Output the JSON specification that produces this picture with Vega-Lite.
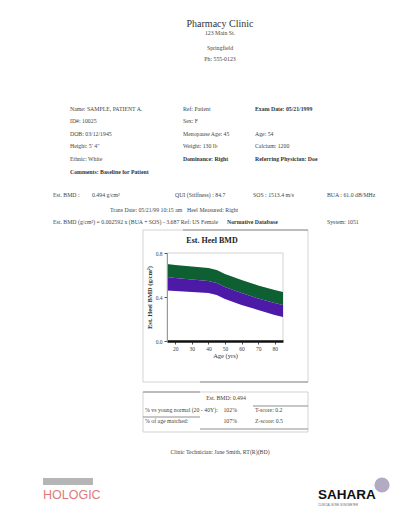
{
  "$schema": "https://vega.github.io/schema/vega-lite/v6.json",
  "width": 116,
  "height": 88,
  "padding": 0,
  "background": "white",
  "config": {"view": {"stroke": null}, "font": "Liberation Serif"},
  "datasets": {
    "bands": [
      {"age": 15, "upper": 0.700, "mid": 0.582, "lower": 0.458},
      {"age": 20, "upper": 0.691, "mid": 0.573, "lower": 0.455},
      {"age": 30, "upper": 0.677, "mid": 0.559, "lower": 0.445},
      {"age": 40, "upper": 0.664, "mid": 0.545, "lower": 0.436},
      {"age": 45, "upper": 0.645, "mid": 0.527, "lower": 0.418},
      {"age": 50, "upper": 0.609, "mid": 0.491, "lower": 0.382},
      {"age": 60, "upper": 0.555, "mid": 0.436, "lower": 0.327},
      {"age": 70, "upper": 0.505, "mid": 0.386, "lower": 0.282},
      {"age": 80, "upper": 0.464, "mid": 0.345, "lower": 0.236},
      {"age": 85, "upper": 0.445, "mid": 0.327, "lower": 0.218}
    ],
    "page": [{"c": 0, "c2": 26, "r": 0, "r2": 32}],
    "frames": [
      {"c": 7, "c2": 22, "r": 14, "r2": 18},
      {"c": 7, "c2": 22, "r": 19, "r2": 26},
      {"c": 9, "c2": 21, "r": 16, "r2": 17}
    ],
    "bar": [{"c": 1, "c2": 5, "r": 28, "r2": 29}],
    "rules": [
      {"c": 13, "c2": 22, "r": 18},
      {"c": 7, "c2": 13, "r": 19},
      {"c": 19, "c2": 22, "r": 21},
      {"c": 7, "c2": 13, "r": 23},
      {"c": 13, "c2": 22, "r": 25},
      {"c": 11, "c2": 22, "r": 14}
    ],
    "title": [{"t": "Pharmacy Clinic", "c": 15, "r": 1}],
    "sub": [
      {"t": "123 Main St.", "c": 15, "r": 2},
      {"t": "Springfield", "c": 15, "r": 3},
      {"t": "Ph: 555-0123", "c": 15, "r": 4},
      {"t": "Clinic Technician: Jane Smith, RT(R)(BD)", "c": 15, "r": 27},
      {"t": "Est. BMD: 0.494", "c": 16, "r": 20}
    ],
    "body": [
      {"t": "Name: SAMPLE, PATIENT A.", "c": 3, "r": 5},
      {"t": "ID#: 10025", "c": 3, "r": 6},
      {"t": "DOB: 03/12/1945", "c": 3, "r": 7},
      {"t": "Height: 5' 4\"", "c": 3, "r": 8},
      {"t": "Ethnic: White", "c": 3, "r": 9},
      {"t": "Ref: Patient", "c": 11, "r": 5},
      {"t": "Sex: F", "c": 11, "r": 6},
      {"t": "Menopause Age: 45", "c": 11, "r": 7},
      {"t": "Weight: 130 lb", "c": 11, "r": 8},
      {"t": "Age: 54", "c": 20, "r": 7},
      {"t": "Calcium: 1200", "c": 20, "r": 8},
      {"t": "Est. BMD :", "c": 2, "r": 11},
      {"t": "0.494 g/cm²", "c": 4, "r": 11},
      {"t": "QUI (Stiffness) : 84.7", "c": 10, "r": 11},
      {"t": "SOS : 1513.4 m/s", "c": 19, "r": 11},
      {"t": "BUA : 61.0 dB/MHz", "c": 24, "r": 11},
      {"t": "Trans Date: 05/21/99 10:15 am", "c": 6, "r": 12},
      {"t": "Heel Measured: Right", "c": 12, "r": 12},
      {"t": "Est. BMD (g/cm²) = 0.002592 x (BUA + SOS) - 3.687   Ref: US Female", "c": 2, "r": 13},
      {"t": "System: 1051", "c": 24, "r": 13},
      {"t": "% vs young normal (20 - 40Y):", "c": 8, "r": 22},
      {"t": "% of age matched:", "c": 8, "r": 24},
      {"t": "T-score: 0.2", "c": 20, "r": 22},
      {"t": "Z-score: 0.5", "c": 20, "r": 24}
    ],
    "bold": [
      {"t": "Comments: Baseline for Patient", "c": 3, "r": 10},
      {"t": "Dominance: Right", "c": 11, "r": 9},
      {"t": "Exam Date: 05/21/1999", "c": 20, "r": 5},
      {"t": "Referring Physician: Doe", "c": 20, "r": 9},
      {"t": "Normative Database", "c": 17, "r": 13}
    ],
    "right": [
      {"t": "102%", "c": 18, "r": 22},
      {"t": "107%", "c": 18, "r": 24}
    ],
    "ctitle": [{"t": "Est. Heel BMD", "c": 14, "r": 15}],
    "logoH": [{"t": "HOLOGIC", "c": 1, "r": 30}],
    "logoS": [{"t": "SAHARA", "c": 23, "r": 30}],
    "tag": [{"t": "CLINICAL BONE SONOMETER", "c": 23, "r": 31}],
    "badge": [{"c": 25, "r": 29}]
  },
  "layer": [
    {
      "encoding": {
        "x": {"field": "c", "type": "quantitative", "axis": null,
          "scale": {"domain": [0,1,2,3,4,5,6,7,8,9,10,11,12,13,14,15,16,17,18,19,20,21,22,23,24,25,26],
                    "range": [-167,-124,-114,-97,-75,-74,-57,-24,-22,0,8,16,20,33,45,53,59,60,70,86,88,116,141,151,160,215,252],
                    "nice": false, "zero": false}},
        "y": {"field": "r", "type": "quantitative", "axis": null,
          "scale": {"domain": [0,1,2,3,4,5,6,7,8,9,10,11,12,13,14,15,16,17,18,19,20,21,22,23,24,25,26,27,28,29,30,31,32],
                    "range": [-253,-229,-220,-205,-194,-144,-132,-119,-107,-94,-81,-58,-43,-31,-23,-12,0,88,129,139,145,153,157,164,168,176,179,199,225,232,242,252,278],
                    "nice": false, "zero": false}}
      },
      "layer": [
        {"data": {"name": "page"}, "mark": {"type": "rect", "fill": "white", "strokeWidth": 0},
         "encoding": {"x2": {"field": "c2"}, "y2": {"field": "r2"}}},
        {"data": {"name": "frames"}, "mark": {"type": "rect", "fill": null, "stroke": "#c8c8c8", "strokeWidth": 0.8},
         "encoding": {"x2": {"field": "c2"}, "y2": {"field": "r2"}}},
        {"data": {"name": "bar"}, "mark": {"type": "rect", "fill": "#b5b5b5"},
         "encoding": {"x2": {"field": "c2"}, "y2": {"field": "r2"}}},
        {"data": {"name": "rules"}, "mark": {"type": "rule", "stroke": "#8f8f8f", "strokeWidth": 1},
         "encoding": {"x2": {"field": "c2"}}},
        {"data": {"name": "badge"}, "mark": {"type": "circle", "size": 230, "color": "#a59cb6", "opacity": 0.85},
         "encoding": {}},
        {"data": {"name": "title"}, "mark": {"type": "text", "align": "center", "baseline": "middle", "fontSize": 10, "color": "#333", "font": "Liberation Serif"},
         "encoding": {"text": {"field": "t"}}},
        {"data": {"name": "sub"}, "mark": {"type": "text", "align": "center", "baseline": "middle", "fontSize": 5.8, "color": "#444", "font": "Liberation Serif"},
         "encoding": {"text": {"field": "t"}}},
        {"data": {"name": "body"}, "mark": {"type": "text", "align": "left", "baseline": "middle", "fontSize": 5.8, "color": "#444", "font": "Liberation Serif"},
         "encoding": {"text": {"field": "t"}}},
        {"data": {"name": "bold"}, "mark": {"type": "text", "align": "left", "baseline": "middle", "fontSize": 5.8, "fontWeight": "bold", "color": "#333", "font": "Liberation Serif"},
         "encoding": {"text": {"field": "t"}}},
        {"data": {"name": "right"}, "mark": {"type": "text", "align": "right", "baseline": "middle", "fontSize": 5.8, "color": "#444", "font": "Liberation Serif"},
         "encoding": {"text": {"field": "t"}}},
        {"data": {"name": "ctitle"}, "mark": {"type": "text", "align": "center", "baseline": "middle", "fontSize": 8, "fontWeight": "bold", "color": "#222", "font": "Liberation Serif"},
         "encoding": {"text": {"field": "t"}}},
        {"data": {"name": "logoH"}, "mark": {"type": "text", "align": "left", "baseline": "middle", "fontSize": 12.5, "color": "#e07a7a", "font": "Liberation Sans"},
         "encoding": {"text": {"field": "t"}}},
        {"data": {"name": "logoS"}, "mark": {"type": "text", "align": "left", "baseline": "middle", "fontSize": 13.5, "fontWeight": "bold", "color": "#111", "font": "Liberation Sans"},
         "encoding": {"text": {"field": "t"}}},
        {"data": {"name": "tag"}, "mark": {"type": "text", "align": "left", "baseline": "middle", "fontSize": 2.8, "color": "#666", "font": "Liberation Sans"},
         "encoding": {"text": {"field": "t"}}}
      ]
    },
    {
      "data": {"name": "bands"},
      "encoding": {
        "x": {"field": "age", "type": "quantitative",
          "scale": {"domain": [15, 85], "nice": false, "zero": false},
          "axis": {"values": [20, 30, 40, 50, 60, 70, 80], "title": "Age (yrs)", "grid": false, "zindex": 1,
            "labelFont": "Liberation Serif", "titleFont": "Liberation Serif", "labelFontSize": 5.5, "titleFontSize": 6.5,
            "titleFontWeight": "normal", "tickSize": 3, "labelPadding": 2, "titlePadding": 1,
            "domainWidth": 2.5, "domainColor": "#111", "tickColor": "#555", "labelColor": "#444", "titleColor": "#333"}}
      },
      "layer": [
        {"mark": {"type": "area", "color": "#0e5f31"},
         "encoding": {
           "y": {"field": "upper", "type": "quantitative",
             "scale": {"domain": [0, 0.8], "nice": false, "zero": false},
             "axis": {"values": [0, 0.2, 0.4, 0.6, 0.8], "format": ".1f", "title": "Est. Heel BMD (g/cm²)", "grid": false, "zindex": 1,
               "labelFont": "Liberation Serif", "titleFont": "Liberation Serif", "labelFontSize": 5.5, "titleFontSize": 6.5,
               "titleFontWeight": "bold", "tickSize": 3, "labelPadding": 2, "titlePadding": 3,
               "domainColor": "#999", "tickColor": "#555", "labelColor": "#444", "titleColor": "#333"}},
           "y2": {"field": "mid"}}},
        {"mark": {"type": "area", "color": "#4c1aa6"},
         "encoding": {
           "y": {"field": "mid", "type": "quantitative", "scale": {"domain": [0, 0.8], "nice": false, "zero": false}},
           "y2": {"field": "lower"}}}
      ]
    }
  ],
  "resolve": {"scale": {"x": "independent", "y": "independent"}, "axis": {"x": "independent", "y": "independent"}}
}
